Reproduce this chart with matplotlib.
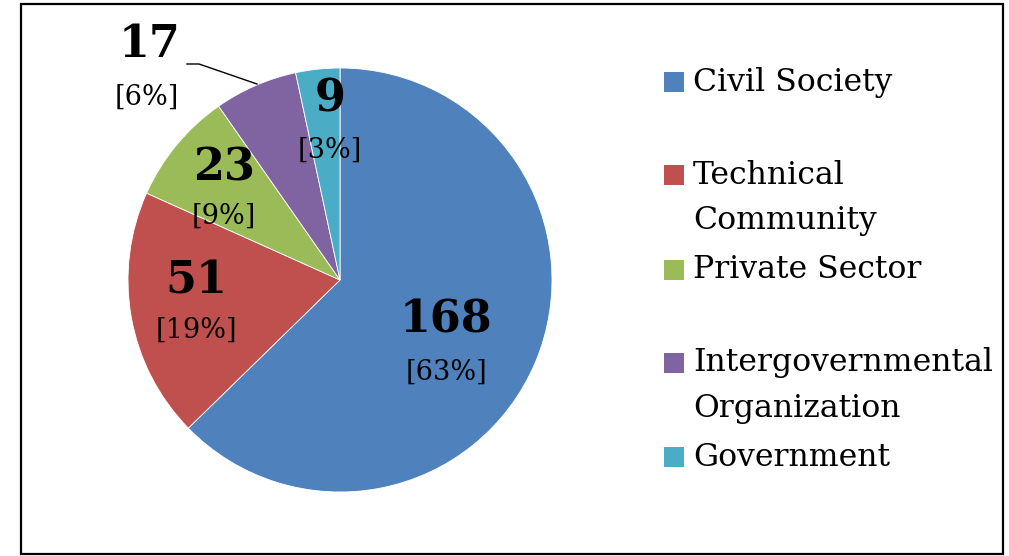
import matplotlib
matplotlib.use("Agg")
import matplotlib.pyplot as plt
from matplotlib.patches import Rectangle
from matplotlib.lines import Line2D

categories = ["Civil Society", "Technical Community", "Private Sector",
              "Intergovernmental Organization", "Government"]
legend_labels = ["Civil Society", "Technical\nCommunity", "Private Sector",
                 "Intergovernmental\nOrganization", "Government"]
values = [168, 51, 23, 17, 9]
percent_labels = ["[63%]", "[19%]", "[9%]", "[6%]", "[3%]"]
colors = ["#4F81BD", "#C0504D", "#9BBB59", "#8064A2", "#4BACC6"]

W, H = 1009, 556
fig = plt.figure(figsize=(W / 100, H / 100), dpi=100)
plt.rcParams['font.family'] = ['DejaVu Serif']

def fx(px):
    return px / W

def fy(py):
    return 1 - py / H

# outer border
fig.add_artist(Rectangle((fx(21), fy(554)), fx(1003) - fx(21), fy(4) - fy(554),
                         transform=fig.transFigure, fill=False,
                         edgecolor="black", linewidth=1.6))

# pie axes (center 340,280 radius 212)
cx, cy, r = 340, 280, 212
ax = fig.add_axes([fx(cx - r), fy(cy + r), fx(2 * r), (2 * r) / H])
ax.pie(values, colors=colors, startangle=90, counterclock=False,
       wedgeprops=dict(edgecolor="white", linewidth=0.6), radius=1.0)
ax.set_xlim(-1, 1)
ax.set_ylim(-1, 1)
ax.set_aspect("equal")
ax.axis("off")

# data labels (pixel positions)
num_pos = [(446, 320), (196, 281), (224, 168), (150, 45), (330, 99)]
pct_pos = [(446, 372), (196, 330), (224, 216), (147, 97), (330, 150)]
num_size = 32
pct_size = 19.5
for v, p, (nx, ny), (px_, py_) in zip(values, percent_labels, num_pos, pct_pos):
    fig.text(fx(nx), fy(ny), str(v), ha="center", va="center",
             fontsize=num_size, fontweight="bold", color="black")
    fig.text(fx(px_), fy(py_), p, ha="center", va="center",
             fontsize=pct_size, color="black")

# leader line for the 17 label
fig.add_artist(Line2D([fx(187), fx(199), fx(257)], [fy(64), fy(64), fy(84)],
                      transform=fig.transFigure, color="black", linewidth=1.0))

# legend (manual)
leg_y = [82, 175, 270, 363, 457]
line_gap = 45
for lab, c, y in zip(legend_labels, colors, leg_y):
    fig.add_artist(Rectangle((fx(664), fy(y + 10)), fx(20), 20 / H,
                             transform=fig.transFigure, facecolor=c,
                             edgecolor="none"))
    for i, part in enumerate(lab.split("\n")):
        fig.text(fx(693), fy(y + i * line_gap), part, ha="left", va="center",
                 fontsize=22.7, color="black")

fig.savefig("out.png", dpi=100)
